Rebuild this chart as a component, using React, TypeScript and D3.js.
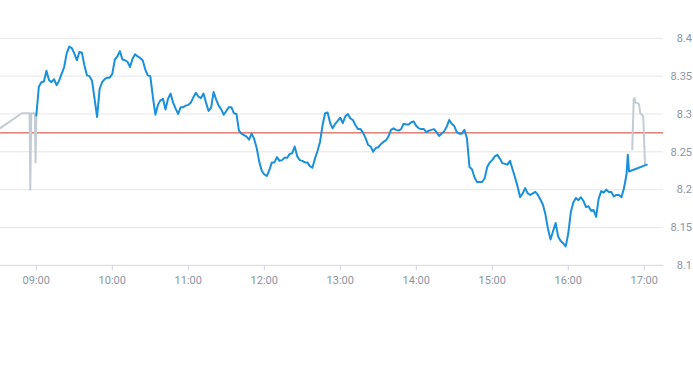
import { useEffect, useRef } from 'react'
import * as d3 from 'd3'

const WIDTH = 693
const HEIGHT = 365

// regular session: one price every 2 minutes starting 09:00
const SESSION_START = '09:00'
const STEP_MINUTES = 2
const sessionPrices = [
  8.298, 8.336, 8.342, 8.343, 8.357, 8.345, 8.342, 8.346, 8.338, 8.344,
  8.353, 8.362, 8.38, 8.389, 8.387, 8.38, 8.371, 8.382, 8.381, 8.364,
  8.351, 8.35, 8.344, 8.32, 8.296, 8.333, 8.342, 8.346, 8.348, 8.348,
  8.353, 8.372, 8.376, 8.383, 8.372, 8.371, 8.369, 8.362, 8.373, 8.379,
  8.376, 8.374, 8.371, 8.359, 8.351, 8.35, 8.323, 8.299, 8.312, 8.318,
  8.32, 8.306, 8.32, 8.327, 8.315, 8.307, 8.3, 8.309, 8.309, 8.311,
  8.312, 8.315, 8.322, 8.328, 8.323, 8.321, 8.327, 8.315, 8.304, 8.308,
  8.329, 8.319, 8.311, 8.306, 8.299, 8.304, 8.309, 8.309, 8.301, 8.3,
  8.278, 8.274, 8.272, 8.27, 8.266, 8.274, 8.267, 8.255, 8.237, 8.225,
  8.22, 8.218, 8.226, 8.236, 8.236, 8.243, 8.238, 8.239, 8.242, 8.242,
  8.247, 8.248, 8.257, 8.244, 8.239, 8.238, 8.236, 8.236, 8.231, 8.229,
  8.241, 8.251, 8.263, 8.285, 8.301, 8.302, 8.288, 8.281, 8.287, 8.291,
  8.295, 8.288, 8.297, 8.3, 8.294, 8.292, 8.285, 8.28, 8.28, 8.275,
  8.268, 8.259, 8.257, 8.25, 8.255, 8.256, 8.26, 8.263, 8.265, 8.27,
  8.279, 8.281, 8.279, 8.278, 8.28, 8.287, 8.286, 8.286, 8.289, 8.29,
  8.284, 8.281, 8.28, 8.28, 8.276, 8.278, 8.279, 8.28, 8.276, 8.271,
  8.274, 8.277, 8.283, 8.292, 8.287, 8.284, 8.276, 8.274, 8.274, 8.279,
  8.268, 8.23, 8.227, 8.216, 8.21, 8.21, 8.21, 8.215, 8.23, 8.236,
  8.239, 8.244, 8.246, 8.241, 8.235, 8.234, 8.233, 8.238, 8.227, 8.216,
  8.204, 8.19, 8.195, 8.202, 8.195, 8.193, 8.195, 8.197, 8.193, 8.187,
  8.18, 8.167, 8.148, 8.134, 8.145, 8.156, 8.138, 8.132, 8.129, 8.125,
  8.142, 8.17, 8.183, 8.189, 8.186, 8.19, 8.185, 8.177, 8.178, 8.172,
  8.173, 8.164, 8.188, 8.198, 8.196, 8.2, 8.197, 8.197, 8.191, 8.193,
  8.193, 8.19, 8.202, 8.22,
]

// closing auction trades
const auctionTrades: [string, number][] = [
  ['16:47:00', 8.246],
  ['16:48:00', 8.224],
  ['17:02:00', 8.233],
]

const preMarket: [string, number][] = [
  ['08:31:20', 8.281],
  ['08:48:30', 8.301],
  ['08:54:40', 8.301],
  ['08:55:15', 8.2],
  ['08:56:00', 8.301],
  ['08:58:50', 8.301],
  ['08:59:25', 8.236],
  ['09:00:00', 8.3],
]

const afterHours: [string, number][] = [
  ['16:50:30', 8.252],
  ['16:51:40', 8.32],
  ['16:52:15', 8.321],
  ['16:53:00', 8.315],
  ['16:55:15', 8.314],
  ['16:56:00', 8.312],
  ['16:56:50', 8.301],
  ['16:59:10', 8.297],
  ['17:00:35', 8.233],
]

const PREV_CLOSE = 8.275
const yTicks = [8.1, 8.15, 8.2, 8.25, 8.3, 8.35, 8.4]
const X_START = '08:31:20'
const X_END = '17:14:48'

type Point = { t: Date; v: number }

export default function App() {
  const svgRef = useRef<SVGSVGElement>(null)

  useEffect(() => {
    if (!svgRef.current) return
    const svg = d3.select(svgRef.current)
    svg.selectAll('*').remove()

    const parse = d3.timeParse('%H:%M:%S')
    const plotRight = 663
    const plotTop = 38.3
    const plotBottom = 265.3

    const x = d3
      .scaleTime()
      .domain([parse(X_START)!, parse(X_END)!])
      .range([0, plotRight])
    const y = d3.scaleLinear().domain([8.1, 8.4]).range([plotBottom, plotTop])

    // build series
    const start = parse(SESSION_START + ':00')!
    const session: Point[] = sessionPrices.map((v, i) => ({
      t: d3.timeMinute.offset(start, i * STEP_MINUTES),
      v,
    }))
    auctionTrades.forEach(([t, v]) => session.push({ t: parse(t)!, v }))
    const toPoints = (rows: [string, number][]) =>
      rows.map(([t, v]) => ({ t: parse(t)!, v }))

    const line = d3
      .line<Point>()
      .x((d) => x(d.t))
      .y((d) => y(d.v))

    const font = 'Roboto, "Liberation Sans", sans-serif'

    // grid
    svg
      .append('g')
      .selectAll('line')
      .data(yTicks.filter((d) => d !== 8.1))
      .enter()
      .append('line')
      .attr('x1', 0)
      .attr('x2', plotRight)
      .attr('y1', (d) => y(d))
      .attr('y2', (d) => y(d))
      .attr('stroke', '#e6e6e6')
      .attr('stroke-width', 1)

    // x axis line + ticks
    svg
      .append('line')
      .attr('x1', 0)
      .attr('x2', plotRight)
      .attr('y1', plotBottom)
      .attr('y2', plotBottom)
      .attr('stroke', '#ccd6eb')
      .attr('stroke-width', 1)

    const hours = d3.timeHour.range(parse('09:00:00')!, parse('17:00:01')!)
    const xg = svg.append('g')
    xg.selectAll('line')
      .data(hours)
      .enter()
      .append('line')
      .attr('x1', (d) => x(d))
      .attr('x2', (d) => x(d))
      .attr('y1', plotBottom)
      .attr('y2', plotBottom + 5)
      .attr('stroke', '#ccd6eb')
    xg.selectAll('text')
      .data(hours)
      .enter()
      .append('text')
      .attr('x', (d) => x(d))
      .attr('y', plotBottom + 19)
      .attr('text-anchor', 'middle')
      .attr('font-family', font)
      .attr('font-size', 11)
      .attr('fill', '#8a95a5')
      .text((d) => d3.timeFormat('%H:%M')(d))

    // y labels on the right
    svg
      .append('g')
      .selectAll('text')
      .data(yTicks)
      .enter()
      .append('text')
      .attr('x', 692)
      .attr('y', (d) => y(d))
      .attr('dy', '0.35em')
      .attr('text-anchor', 'end')
      .attr('font-family', font)
      .attr('font-size', 11)
      .attr('fill', '#8a95a5')
      .text((d) => String(d))

    // previous close
    svg
      .append('line')
      .attr('x1', 0)
      .attr('x2', plotRight)
      .attr('y1', y(PREV_CLOSE))
      .attr('y2', y(PREV_CLOSE))
      .attr('stroke', '#d33a2c')
      .attr('stroke-width', 1)

    // extended hours
    ;[preMarket, afterHours].forEach((rows) => {
      svg
        .append('path')
        .datum(toPoints(rows))
        .attr('d', line)
        .attr('fill', 'none')
        .attr('stroke', '#c3ccd5')
        .attr('stroke-width', 2)
        .attr('stroke-linejoin', 'round')
    })

    // regular session
    svg
      .append('path')
      .datum(session)
      .attr('d', line)
      .attr('fill', 'none')
      .attr('stroke', '#1a90db')
      .attr('stroke-width', 2)
      .attr('stroke-linejoin', 'round')
      .attr('stroke-linecap', 'round')
  }, [])

  return (
    <svg
      ref={svgRef}
      width={WIDTH}
      height={HEIGHT}
      style={{ position: 'absolute', left: 0, top: 0, display: 'block', background: '#fff' }}
    />
  )
}
